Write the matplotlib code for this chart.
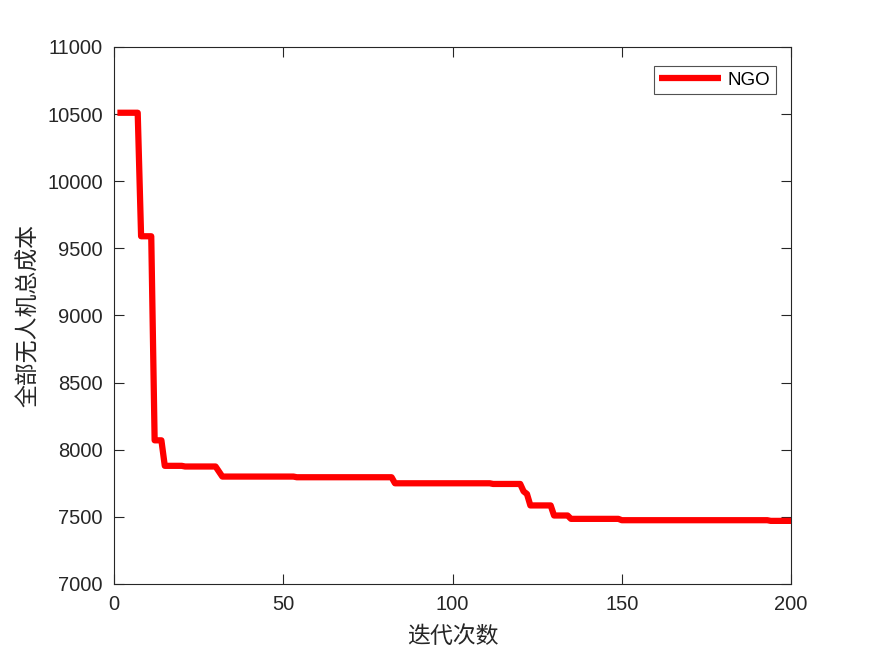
import matplotlib
matplotlib.use("Agg")
import matplotlib.pyplot as plt

# ----------------------------
# Data
# ----------------------------
iters = [1, 7, 8, 11, 12, 14, 15, 20, 21, 30, 32, 53, 54, 82, 83,
         111, 112, 120, 121, 122, 123, 129, 130, 134, 135, 149, 150,
         193, 194, 200]
cost = [10510, 10510, 9590, 9590, 8070, 8070, 7880, 7880, 7875, 7875,
        7800, 7800, 7795, 7795, 7750, 7750, 7745, 7745, 7690, 7670,
        7585, 7585, 7510, 7510, 7485, 7485, 7475, 7475, 7470, 7470]

x_ticks = [0, 50, 100, 150, 200]
y_ticks = [7000, 7500, 8000, 8500, 9000, 9500, 10000, 10500, 11000]

series_name = "NGO"
x_label = "迭代次数"
y_label = "全部无人机总成本"

# ----------------------------
# Figure
# ----------------------------
plt.rcParams["font.family"] = ["Liberation Sans", "DejaVu Sans"]
cjk = ["Noto Sans CJK SC", "DejaVu Sans"]
edge = "#262626"

fig = plt.figure(figsize=(8.75, 6.56), dpi=100)
ax = fig.add_axes([0.1303, 0.1098, 0.7737, 0.8186])

ax.plot(iters, cost, color="red", lw=4.5, label=series_name,
        solid_joinstyle="round", solid_capstyle="butt")

ax.set_xlim(0, 200)
ax.set_ylim(7000, 11000)
ax.set_xticks(x_ticks)
ax.set_yticks(y_ticks)

ax.tick_params(direction="in", length=7, width=0.8, colors=edge,
               labelsize=14.5, top=True, right=True, pad=8)
for lab in ax.get_xticklabels() + ax.get_yticklabels():
    lab.set_color(edge)
for sp in ax.spines.values():
    sp.set_color(edge)
    sp.set_linewidth(0.8)

ax.set_xlabel(x_label, family=cjk, fontsize=16.5, color=edge, labelpad=8)
ax.set_ylabel(y_label, family=cjk, fontsize=16.5, color=edge, labelpad=5)

leg = ax.legend(loc="upper right", fontsize=13.5, frameon=True, fancybox=False,
                edgecolor=edge, borderpad=0.3, handlelength=3.3,
                handletextpad=0.35, borderaxespad=0,
                bbox_to_anchor=(0.978, 0.965))
leg.get_frame().set_linewidth(0.8)

fig.savefig("out.png", dpi=100, facecolor="white")
